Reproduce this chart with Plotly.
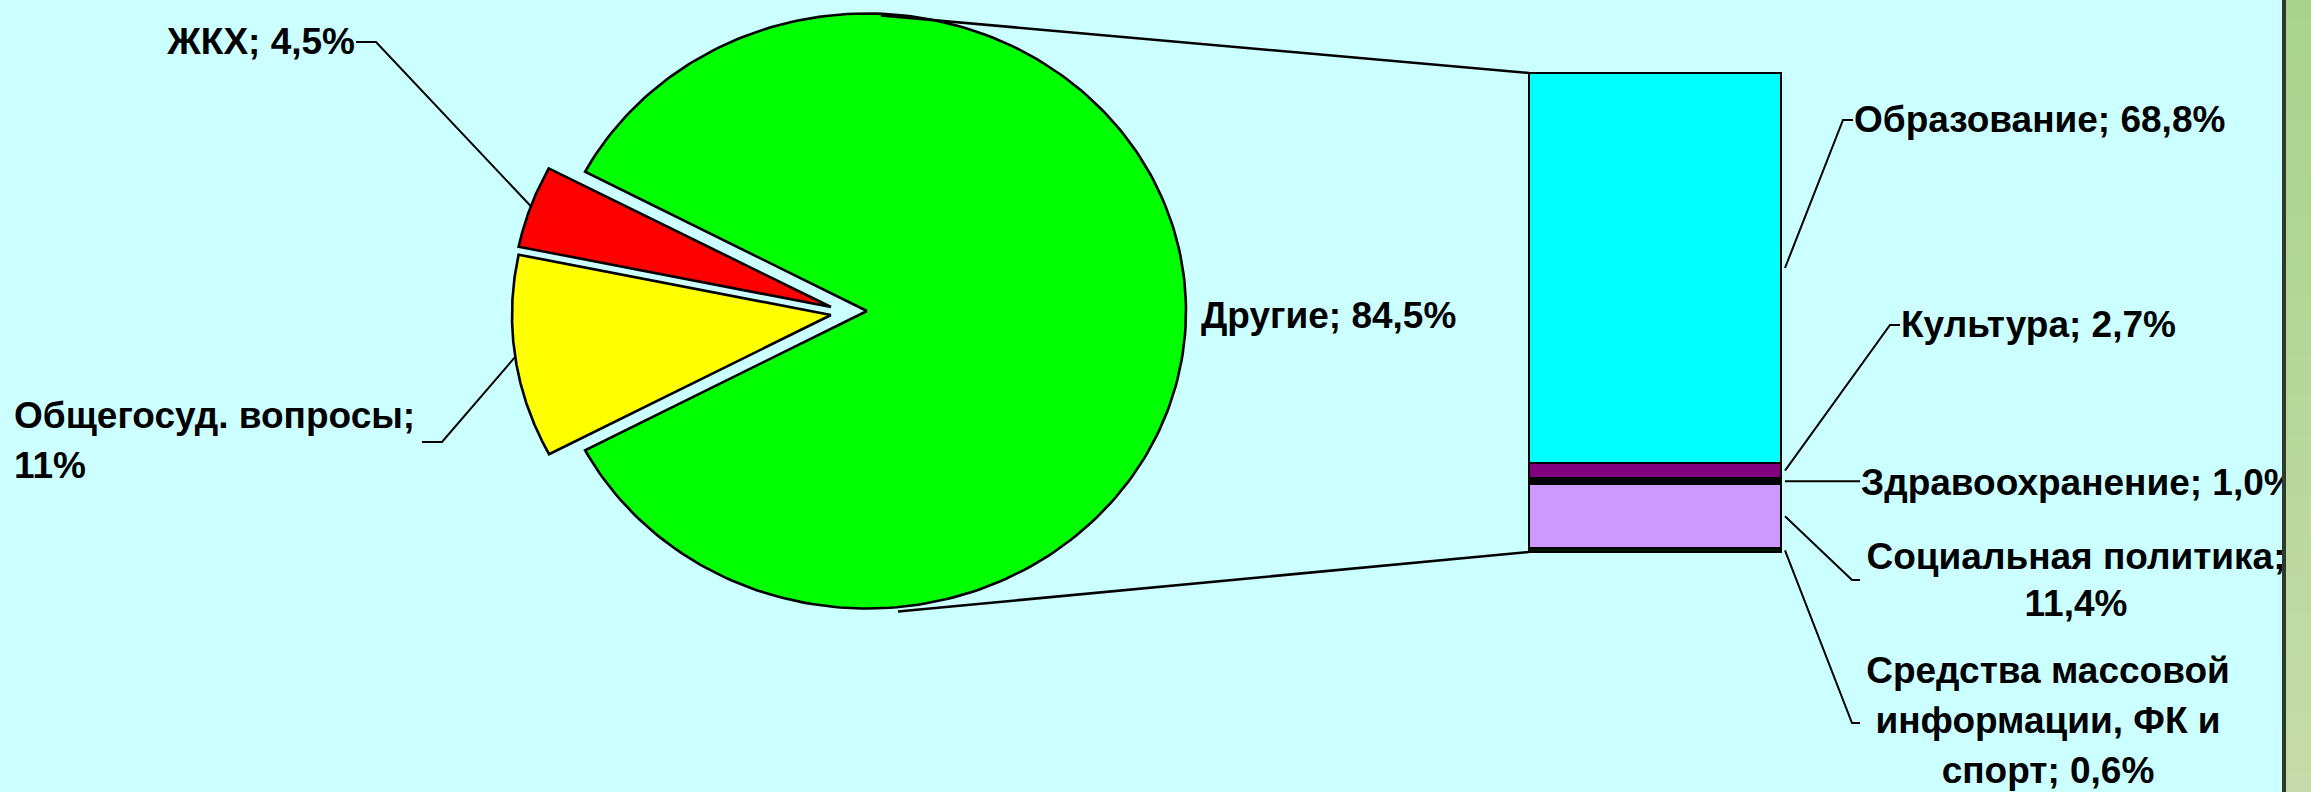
import textwrap
import numpy as np
import plotly.graph_objects as go

# ---------------- data ----------------
pie_labels = ["ЖКХ", "Общегосуд. вопросы", "Другие"]
pie_values = [4.5, 11.0, 84.5]
pie_decimals = [1, 0, 1]

bar_labels = ["Образование", "Культура", "Здравоохранение",
              "Социальная политика", "Средства массовой информации, ФК и спорт"]
bar_values = [68.8, 2.7, 1.0, 11.4, 0.6]
bar_decimals = [1, 1, 1, 1, 1]

# ---------------- style / layout ----------------
W, H = 2311, 792
BG = "#CCFFFF"
PANEL_X = 2284
FONT = dict(family="Liberation Sans, Arial, sans-serif", size=37, color="black")
LW = 2.6
TEXT_DY = 4

CX, CY, RX, RY = 867, 311, 319, 297.5
pie_colors = ["#FF0000", "#FFFF00", "#00FF00"]
pie_offsets = [(-36, -4), (-36, 4), (0, 0)]
pie_style = [
    dict(anchor=(355, 41), pos="middle left", wrap=40, spacing=0, path=[(376, 42), (356, 42)]),
    dict(anchor=(14, 415), pos="middle right", wrap=19, spacing=50, path=[(442, 442), (422, 442)]),
    dict(anchor=(1201, 315), pos="middle right", wrap=40, spacing=0, path=None),
]

bar_colors = ["#00FFFF", "#800080", "#000000", "#CC99FF", "#001A00"]
BAR_X0, BAR_X1, BAR_TOP, BAR_BOT = 1529, 1781, 73, 552
bar_style = [
    dict(anchor=(1854, 119), pos="middle right", wrap=40, spacing=0, path=[(1843, 120), (1853, 120)]),
    dict(anchor=(1901, 324), pos="middle right", wrap=40, spacing=0, path=[(1890, 325), (1900, 325)]),
    dict(anchor=(1861, 482), pos="middle right", wrap=40, spacing=0, path=[(1860, None)]),
    dict(anchor=(2076, 556), pos="middle center", wrap=20, spacing=47, path=[(1852, 580), (1860, 580)]),
    dict(anchor=(2048, 670), pos="middle center", wrap=17, spacing=50, path=[(1852, 723), (1860, 723)]),
]


def fmt(v, d):
    return f"{v:.{d}f}".replace(".", ",") + "%"


fig = go.Figure()

# ---------------- pie (elliptical) ----------------
total = sum(pie_values)
other_span = pie_values[-1] / total * 360.0
a = 180.0 - (360.0 - other_span) / 2.0
mids = []
for lab, val, col, (ox, oy) in zip(pie_labels, pie_values, pie_colors, pie_offsets):
    span = val / total * 360.0
    th = np.radians(np.linspace(a, a + span, 240))
    cx, cy = CX + ox, CY + oy
    xs = np.concatenate([[cx], cx + RX * np.cos(th), [cx]])
    ys = np.concatenate([[cy], cy - RY * np.sin(th), [cy]])
    fig.add_trace(go.Scatter(x=xs, y=ys, mode="lines", fill="toself", fillcolor=col,
                             line=dict(color="black", width=LW), hoverinfo="skip",
                             showlegend=False, xaxis="x", yaxis="y"))
    tm = np.radians(a + span / 2)
    mids.append((cx + RX * np.cos(tm), cy - RY * np.sin(tm)))
    a += span

# connector lines from pie to bar
fig.add_trace(go.Scatter(x=[CX + 14, BAR_X0], y=[CY - RY + 2, BAR_TOP], mode="lines",
                         line=dict(color="black", width=LW), hoverinfo="skip", showlegend=False))
fig.add_trace(go.Scatter(x=[CX + 31, BAR_X0], y=[CY + RY + 3, BAR_BOT], mode="lines",
                         line=dict(color="black", width=LW), hoverinfo="skip", showlegend=False))


def add_label(text, st, start):
    lines = textwrap.wrap(text, st["wrap"])
    x0, y0 = st["anchor"]
    for i, ln in enumerate(lines):
        fig.add_trace(go.Scatter(x=[x0], y=[y0 + TEXT_DY + i * st["spacing"]], mode="text",
                                 text=[f"<b>{ln}</b>"], textposition=st["pos"],
                                 textfont=FONT, hoverinfo="skip", showlegend=False))
    if st["path"] is not None and start is not None:
        px = [start[0]] + [p[0] for p in st["path"]]
        py = [start[1]] + [start[1] if p[1] is None else p[1] for p in st["path"]]
        fig.add_trace(go.Scatter(x=px, y=py, mode="lines", line=dict(color="black", width=2),
                                 hoverinfo="skip", showlegend=False))


for lab, val, d, st, m in zip(pie_labels, pie_values, pie_decimals, pie_style, mids):
    add_label(f"{lab}; {fmt(val, d)}", st, m)

# ---------------- stacked bar (first category on top) ----------------
bar_total = sum(bar_values)
scale = (BAR_BOT - BAR_TOP) / bar_total
for lab, val, col in list(zip(bar_labels, bar_values, bar_colors))[::-1]:
    fig.add_trace(go.Bar(x=[0], y=[val], width=1, name=lab,
                         marker=dict(color=col, line=dict(color="black", width=LW)),
                         xaxis="x2", yaxis="y2", hoverinfo="skip", showlegend=False))

cum = 0.0
for lab, val, d, st in zip(bar_labels, bar_values, bar_decimals, bar_style):
    mid_y = BAR_TOP + (cum + val / 2) * scale
    add_label(f"{lab}; {fmt(val, d)}", st, (BAR_X1 + 4, mid_y))
    cum += val

# bar axes: place so that 0..total spans BAR_BOT..BAR_TOP
PADX, PADY = 0.55, 1.0
px_per_x = BAR_X1 - BAR_X0
bx0 = (BAR_X0 + BAR_X1) / 2 - PADX * px_per_x
bx1 = (BAR_X0 + BAR_X1) / 2 + PADX * px_per_x
by_bot = BAR_BOT + PADY * scale
by_top = BAR_TOP - PADY * scale

# ---------------- right panel ----------------
shapes = [dict(type="rect", xref="paper", yref="paper", x0=(PANEL_X - 2) / W, x1=(PANEL_X + 2) / W,
               y0=0, y1=1, fillcolor="#2E3A2A", line=dict(width=0), layer="above")]
top_rgb = np.array([0xA9, 0xD3, 0x8C])
bot_rgb = np.array([0xC6, 0xDC, 0xAA])
NB = 40
for i in range(NB):
    c = top_rgb + (bot_rgb - top_rgb) * (i + 0.5) / NB
    shapes.append(dict(type="rect", xref="paper", yref="paper", x0=(PANEL_X + 2) / W, x1=1,
                       y0=1 - (i + 1) / NB, y1=1 - i / NB + 0.001,
                       fillcolor="rgb(%d,%d,%d)" % tuple(c.astype(int)), line=dict(width=0), layer="above"))

fig.update_layout(
    width=W, height=H, margin=dict(l=0, r=0, t=0, b=0),
    paper_bgcolor=BG, plot_bgcolor="rgba(0,0,0,0)",
    barmode="stack", bargap=0,
    xaxis=dict(domain=[0, PANEL_X / W], range=[0, PANEL_X], visible=False, fixedrange=True),
    yaxis=dict(domain=[0, 1], range=[H, 0], visible=False, fixedrange=True),
    xaxis2=dict(domain=[bx0 / W, bx1 / W], range=[-PADX, PADX], visible=False, anchor="y2"),
    yaxis2=dict(domain=[(H - by_bot) / H, (H - by_top) / H], range=[-PADY, bar_total + PADY],
                visible=False, anchor="x2"),
    shapes=shapes,
)

fig.write_html("out.html", config={"displayModeBar": False},
               post_script="document.body.style.margin='0';document.body.style.overflow='hidden';")
